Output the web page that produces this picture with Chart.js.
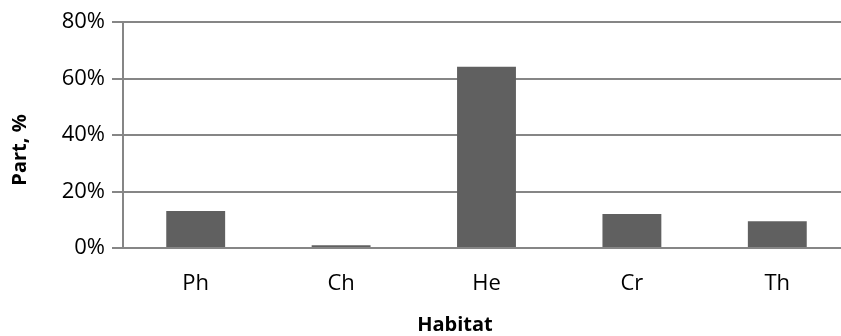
<!DOCTYPE html>
<html>
<head>
<meta charset="utf-8">
<script src="https://cdn.jsdelivr.net/npm/chart.js@4/dist/chart.umd.min.js"></script>
<style>
  html, body { margin: 0; padding: 0; background: #fff; overflow: hidden; }
  #wrap { width: 850px; height: 336px; position: relative; }
</style>
</head>
<body>
<div id="wrap"><canvas id="c"></canvas></div>
<script>
// Life-form spectrum: share of species per habitat class
const categories = ['Ph', 'Ch', 'He', 'Cr', 'Th'];
const shares = [13.1, 1.0, 64.2, 12.0, 9.5];
const yTicks = [0, 20, 40, 60, 80];
const xTitle = 'Habitat';
const yTitle = 'Part, %';

const FONT = "'Open Sans', 'Noto Sans', sans-serif";
const GRID = '#868686';

// Axis titles drawn in their own places around the plot
const axisTitles = {
  id: 'axisTitles',
  afterDraw(chart) {
    const { ctx, chartArea } = chart;
    ctx.save();
    ctx.fillStyle = '#000';
    ctx.font = 'bold 20px ' + FONT;
    ctx.textAlign = 'center';
    ctx.textBaseline = 'middle';
    ctx.fillText(xTitle, chartArea.left + 332, 325);
    ctx.translate(20, chartArea.top + 128);
    ctx.rotate(-Math.PI / 2);
    ctx.fillText(yTitle, 0, 0);
    ctx.restore();
  }
};

new Chart(document.getElementById('c'), {
  type: 'bar',
  data: {
    labels: categories,
    datasets: [{
      data: shares,
      backgroundColor: '#606060',
      borderWidth: 0,
      barPercentage: 0.405,
      categoryPercentage: 1
    }]
  },
  options: {
    responsive: true,
    maintainAspectRatio: false,
    animation: false,
    layout: { padding: { top: 22, right: 0, left: 0, bottom: 0 } },
    plugins: { legend: { display: false }, tooltip: { enabled: false } },
    scales: {
      x: {
        grid: { display: false, drawTicks: false },
        border: { display: true, color: GRID, width: 2 },
        ticks: { color: '#000', font: { family: FONT, size: 22 }, padding: 23, maxRotation: 0 },
        afterFit(scale) { scale.height = 88; }
      },
      y: {
        min: 0,
        max: 80,
        afterBuildTicks(scale) { scale.ticks = yTicks.map(v => ({ value: v })); },
        grid: { color: GRID, lineWidth: 2, tickLength: 11, drawTicks: true },
        border: { display: true, color: GRID, width: 2 },
        ticks: {
          color: '#000',
          font: { family: FONT, size: 22 },
          padding: 7,
          callback: v => v + '%'
        },
        afterFit(scale) { scale.width = 123; }
      }
    }
  },
  plugins: [axisTitles]
});
</script>
</body>
</html>
